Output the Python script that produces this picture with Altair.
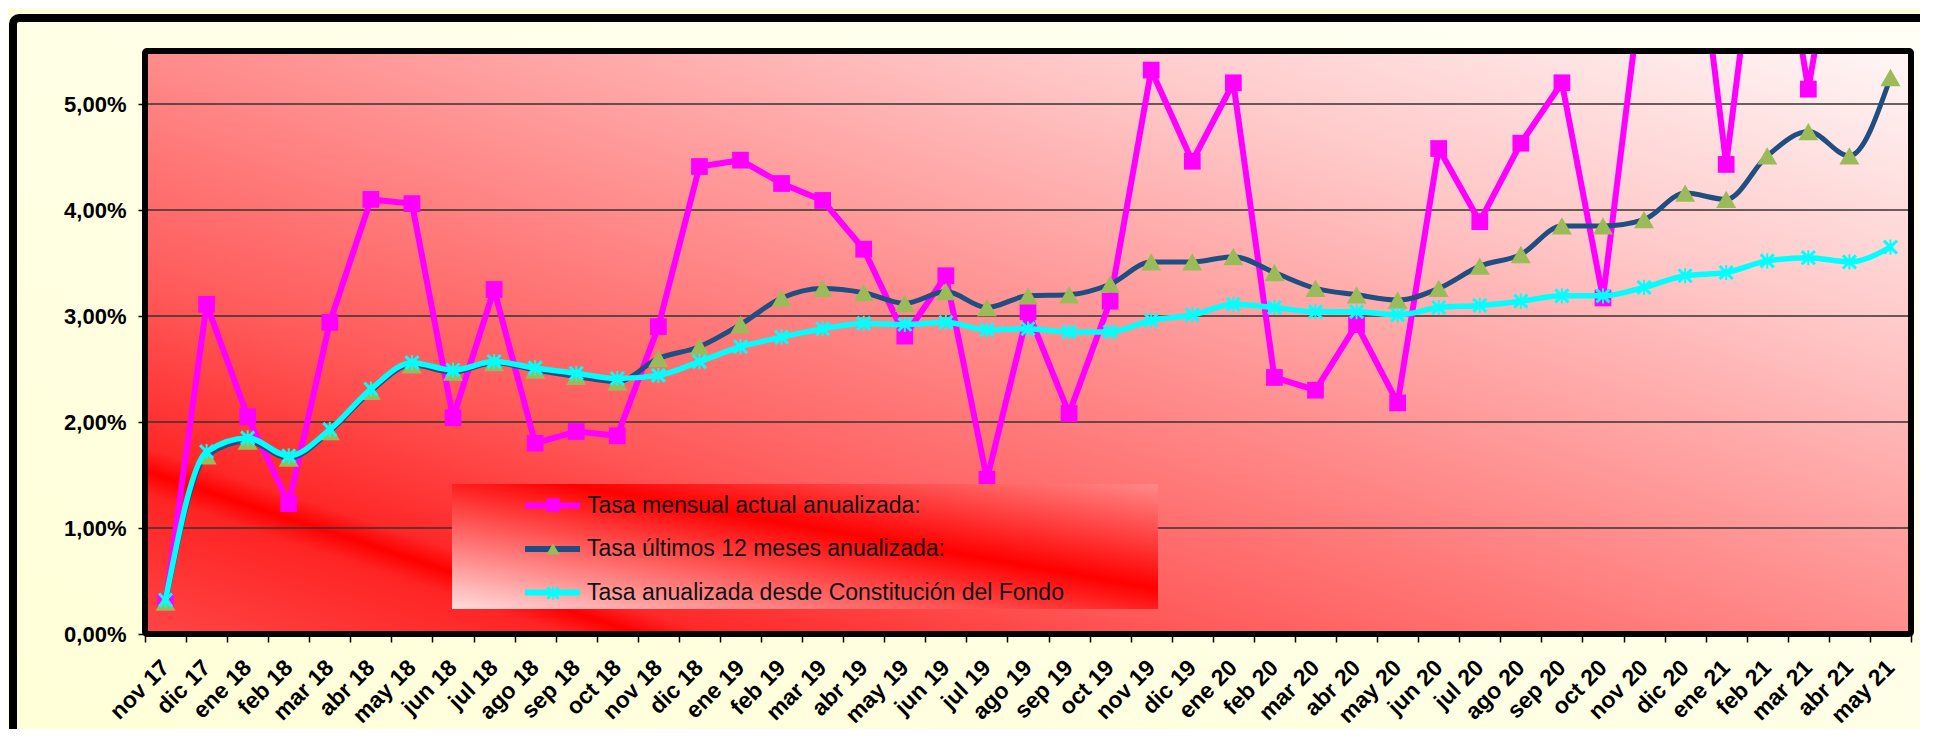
import altair as alt
import pandas as pd

# ---------------- data ----------------
MONTHS = ["nov 17", "dic 17", "ene 18", "feb 18", "mar 18", "abr 18", "may 18", "jun 18",
          "jul 18", "ago 18", "sep 18", "oct 18", "nov 18", "dic 18", "ene 19", "feb 19",
          "mar 19", "abr 19", "may 19", "jun 19", "jul 19", "ago 19", "sep 19", "oct 19",
          "nov 19", "dic 19", "ene 20", "feb 20", "mar 20", "abr 20", "may 20", "jun 20",
          "jul 20", "ago 20", "sep 20", "oct 20", "nov 20", "dic 20", "ene 21", "feb 21",
          "mar 21", "abr 21", "may 21"]

SERIES = ["Tasa mensual actual anualizada:",
          "Tasa últimos 12 meses anualizada:",
          "Tasa anualizada desde Constitución del Fondo"]

MENSUAL = [0.30, 3.11, 2.05, 1.23, 2.94, 4.10, 4.06, 2.04, 3.25, 1.80, 1.91, 1.87,
           2.90, 4.41, 4.47, 4.25, 4.09, 3.63, 2.81, 3.38, 1.46, 3.04, 2.08, 3.14,
           5.32, 4.46, 5.20, 2.42, 2.30, 2.92, 2.18, 4.58, 3.89, 4.63, 5.20, 3.17,
           6.30, 7.60, 4.43, 7.50, 5.14, 7.40, 6.80]
ULTIMOS_12 = [0.30, 1.68, 1.82, 1.66, 1.91, 2.29, 2.54, 2.47, 2.56, 2.49, 2.43, 2.38,
              2.60, 2.71, 2.92, 3.17, 3.26, 3.22, 3.12, 3.23, 3.08, 3.19, 3.20, 3.30,
              3.51, 3.51, 3.56, 3.41, 3.26, 3.20, 3.15, 3.26, 3.47, 3.58, 3.85, 3.85,
              3.91, 4.16, 4.10, 4.51, 4.74, 4.51, 5.25]
DESDE_CONSTITUCION = [0.32, 1.72, 1.85, 1.68, 1.93, 2.31, 2.56, 2.49, 2.57, 2.51, 2.46, 2.41,
                      2.44, 2.57, 2.71, 2.80, 2.88, 2.93, 2.92, 2.94, 2.87, 2.88, 2.85, 2.85,
                      2.96, 3.01, 3.11, 3.08, 3.04, 3.04, 3.01, 3.08, 3.10, 3.14, 3.19, 3.19,
                      3.27, 3.38, 3.41, 3.52, 3.55, 3.51, 3.65]

Y_TICKS = [0, 1, 2, 3, 4, 5]
GRID_VALUES = [1, 2, 3, 4, 5]
Y_MAX = 5.5

# ---------------- style ----------------
FONT = "Liberation Sans"
W, H = 1766, 583
LINE_COLORS = ["#FF00FF", "#1F4E82", "#00FFFF"]
MARKER_COLORS = ["#FF00FF", "#9BBB59", "#00FFFF"]
STAR = ("M-1,-0.72L-0.72,-1L0,-0.28L0.72,-1L1,-0.72L0.28,0L1,0.72L0.72,1L0,0.28"
        "L-0.72,1L-1,0.72L-0.28,0Z M-0.13,-1H0.13V1H-0.13Z")
MARKER_SHAPES = ["square", "triangle-up", STAR]
LINE_WIDTHS = [6, 5, 5.5]
INTERP = ["linear", "monotone", "monotone"]
MARKER_SIZES = [280, 400, 230]

rows = []
for serie, valores in zip(SERIES, [MENSUAL, ULTIMOS_12, DESDE_CONSTITUCION]):
    for mes, v in zip(MONTHS, valores):
        rows.append({"mes": mes, "serie": serie, "marcador": serie, "valor": v})
data = pd.DataFrame(rows)
one = alt.Data(values=[{"k": 0}])


def grad(stops, x1=0, y1=1, x2=1, y2=0):
    return alt.LinearGradient(
        gradient="linear",
        stops=[alt.GradientStop(color=c, offset=o) for o, c in stops],
        x1=x1, y1=y1, x2=x2, y2=y2)


frame_grad = grad([(0, "#FFFFD6"), (1, "#FFFFF6")])
plot_grad = grad([(0, "#FF4545"), (0.12, "#FF2424"), (0.14, "#FF0000"),
                  (0.16, "#FF2828"), (0.3, "#FF5A5A"), (0.5, "#FF8C8C"),
                  (0.75, "#FFC8C8"), (1, "#FFF6F6")])
legend_grad = grad([(0, "#FFDCDC"), (0.58, "#FF0000"), (1, "#FF8A8A")])

x_axis = alt.Axis(title=None, labelAngle=-45, labelFont=FONT, labelFontSize=23,
                  labelFontWeight="bold", labelColor="black", labelPadding=14,
                  labelOffset=-8,
                  tickBand="extent", tickSize=8, tickWidth=1.5, tickColor="black",
                  domain=False, grid=False, zindex=1)
y_axis = alt.Axis(title=None, values=Y_TICKS,
                  labelExpr="replace(format(datum.value, '.2f'), '.', ',') + '%'",
                  labelFont=FONT, labelFontSize=22, labelFontWeight="bold",
                  labelColor="black", labelPadding=12, tickSize=7, tickWidth=1.5,
                  tickColor="black", domain=False, grid=False, zindex=1)

x_enc = alt.X("mes:N", scale=alt.Scale(type="band", domain=MONTHS, paddingInner=0,
                                       paddingOuter=0),
              bandPosition=0.5, axis=x_axis)
y_enc = alt.Y("valor:Q", scale=alt.Scale(domain=[0, Y_MAX], nice=False, zero=False),
              axis=y_axis)

legend_lines = alt.Legend(title=None, orient="none", legendX=377, legendY=424,
                          symbolType="stroke", symbolSize=3025, symbolStrokeWidth=6,
                          labelFont=FONT, labelFontSize=23, labelColor="#111111",
                          labelOffset=4, labelLimit=1000, rowPadding=0.5, padding=0,
                          zindex=1)
legend_marks = alt.Legend(title=None, orient="none", legendX=396.5, legendY=442.5,
                          values=SERIES, symbolSize=180, symbolStrokeWidth=0,
                          labelFont=FONT, labelFontSize=23, labelExpr="''",
                          labelOffset=4, rowPadding=20, padding=0, zindex=2)

frame = alt.Chart(one).mark_rect(fill=frame_grad, stroke="black", strokeWidth=8,
                                 cornerRadius=6).encode(
    x=alt.value(-132), x2=alt.value(W + 60), y=alt.value(-33), y2=alt.value(H + 150))

background = alt.Chart(one).mark_rect(fill=plot_grad).encode(
    x=alt.value(0), x2=alt.value("width"), y=alt.value(0), y2=alt.value("height"))

grid = alt.Chart(pd.DataFrame({"valor": GRID_VALUES})).mark_rule(
    color="#333333", strokeWidth=1.3).encode(
    y=y_enc, x=alt.value(0), x2=alt.value("width"))


def line_layer(i):
    return alt.Chart(data).transform_filter(
        alt.FieldEqualPredicate(field="serie", equal=SERIES[i])
    ).mark_line(strokeWidth=LINE_WIDTHS[i], interpolate=INTERP[i], clip=True,
                strokeJoin="round").encode(
        x=x_enc, y=y_enc,
        stroke=alt.Stroke("serie:N", scale=alt.Scale(domain=SERIES, range=LINE_COLORS),
                          legend=legend_lines))


def point_layer(i):
    return alt.Chart(data).transform_filter(
        alt.FieldEqualPredicate(field="marcador", equal=SERIES[i])
    ).mark_point(filled=True, size=MARKER_SIZES[i], opacity=1, strokeWidth=0,
                 clip=True).encode(
        x=x_enc, y=y_enc,
        shape=alt.Shape("marcador:N",
                        scale=alt.Scale(domain=SERIES + ["-"],
                                        range=MARKER_SHAPES + ["circle"]),
                        legend=legend_marks),
        fill=alt.Fill("marcador:N",
                      scale=alt.Scale(domain=SERIES + ["-"],
                                      range=MARKER_COLORS + ["#000000"]),
                      legend=legend_marks))


legend_box = alt.Chart(one).mark_rect(fill=legend_grad).encode(
    x=alt.value(307), x2=alt.value(1013), y=alt.value(433), y2=alt.value(558))

border = alt.Chart(one).mark_rect(fill="transparent", stroke="black", strokeWidth=6,
                                  cornerRadius=2).encode(
    x=alt.value(0), x2=alt.value("width"), y=alt.value(0), y2=alt.value("height"))

chart = alt.layer(
    frame, background, grid,
    line_layer(0), point_layer(0),
    line_layer(1), point_layer(1),
    line_layer(2), point_layer(2),
    legend_box, border
).properties(
    width=W, height=H,
    padding={"left": 137, "top": 43, "right": 9, "bottom": 95},
    autosize=alt.AutoSizeParams(type="none"),
    background="#FFFFDC"
).configure_view(stroke="transparent")

chart.save("out.html", embed_options={"renderer": "svg", "actions": False})
